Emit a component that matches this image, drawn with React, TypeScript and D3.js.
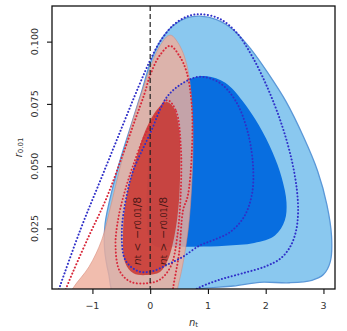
import React, { useEffect, useRef } from "react";
import * as d3 from "d3";

type Pt = [number, number];

// tick values / labels
const xTicks = [-1, 0, 1, 2, 3];
const xTickLabels = ["\u22121", "0", "1", "2", "3"];
const yTicks = [0.025, 0.05, 0.075, 0.1];
const yTickLabels = ["0.025", "0.050", "0.075", "0.100"];

// blue analysis, 2 sigma (filled, closed)
const blueOuter: Pt[] = [
  [-0.6, -0.002], [-0.72, 0.007], [-0.79, 0.017], [-0.78, 0.027], [-0.66, 0.0404],
  [-0.5, 0.054], [-0.34, 0.0658], [-0.16, 0.079], [0.0, 0.0913], [0.18, 0.1005],
  [0.4, 0.1065], [0.63, 0.1095], [0.86, 0.1102], [1.15, 0.1088], [1.45, 0.1045],
  [1.75, 0.0968], [2.05, 0.087], [2.35, 0.076], [2.65, 0.062], [2.9, 0.048],
  [3.06, 0.0345], [3.14, 0.022], [3.12, 0.0118], [3.0, 0.0065], [2.8, 0.0042],
  [2.41, 0.0032], [1.9, 0.0034], [1.44, 0.0019], [0.86, 0.0008], [0.3, -0.002]
];

// blue analysis, 1 sigma
const blueInner: Pt[] = [
  [0.98, 0.0861], [1.3, 0.0835], [1.6, 0.0762], [1.88, 0.0665], [2.12, 0.0555],
  [2.28, 0.0452], [2.36, 0.0355], [2.33, 0.0282], [2.16, 0.0222], [1.8, 0.0192],
  [1.3, 0.0181], [0.8, 0.0177], [0.4, 0.0177], [0.1, 0.0177], [-0.03, 0.021],
  [-0.06, 0.03], [-0.05, 0.045], [0.03, 0.0632], [0.29, 0.0778], [0.52, 0.0828],
  [0.75, 0.0855]
];

// red analysis, 2 sigma
const redOuter: Pt[] = [
  [-1.4, -0.002], [-1.32, 0.0016], [-1.06, 0.0096], [-0.84, 0.0203], [-0.7, 0.0324],
  [-0.6, 0.042], [-0.45, 0.056], [-0.32, 0.067], [-0.14, 0.08], [0.0, 0.0895],
  [0.15, 0.0975], [0.3, 0.1022], [0.37, 0.1025], [0.46, 0.1003], [0.55, 0.0966],
  [0.63, 0.091], [0.69, 0.0832], [0.74, 0.0632], [0.72, 0.0431], [0.66, 0.025],
  [0.56, 0.01], [0.48, 0.0016], [0.45, -0.002]
];

// red analysis, 1 sigma
const redInner: Pt[] = [
  [0.29, 0.0758], [0.42, 0.073], [0.5, 0.065], [0.52, 0.0565], [0.5, 0.0364],
  [0.42, 0.022], [0.3, 0.012], [0.17, 0.0075], [-0.06, 0.0063], [-0.29, 0.007],
  [-0.43, 0.011], [-0.47, 0.023], [-0.42, 0.0364], [-0.25, 0.0524], [-0.08, 0.0645],
  [0.12, 0.0728]
];

// dotted contours (other data combination)
const blueDotOuter: Pt[] = [
  [-1.62, -0.002], [-1.56, 0.002], [-1.2, 0.025], [-0.85, 0.045], [-0.5, 0.065],
  [-0.2, 0.082], [0.0, 0.0925], [0.17, 0.1], [0.4, 0.1066], [0.63, 0.11],
  [0.86, 0.111], [1.2, 0.1092], [1.5, 0.1035], [1.78, 0.0935], [2.05, 0.0805],
  [2.28, 0.0665], [2.45, 0.0525], [2.54, 0.0405], [2.56, 0.031], [2.52, 0.0235],
  [2.42, 0.0175], [2.26, 0.013], [2.0, 0.0098], [1.6, 0.007], [1.2, 0.0044],
  [0.86, 0.0014], [0.6, -0.002]
];

const blueDotInner: Pt[] = [
  [0.86, 0.0859], [1.2, 0.0835], [1.48, 0.0762], [1.68, 0.0645], [1.78, 0.0505],
  [1.76, 0.0385], [1.62, 0.0295], [1.38, 0.0235], [1.09, 0.0203], [0.86, 0.0182],
  [0.57, 0.0137], [0.3, 0.0105], [0.03, 0.0078], [-0.2, 0.0078], [-0.43, 0.0123],
  [-0.49, 0.0244], [-0.4, 0.039], [-0.29, 0.0484], [0.0, 0.0632], [0.29, 0.0778],
  [0.575, 0.0835]
];

const redDotOuter: Pt[] = [
  [-1.5, -0.002], [-1.42, 0.003], [-1.08, 0.021], [-0.76, 0.037], [-0.5, 0.053],
  [-0.27, 0.068], [-0.1, 0.079], [0.0, 0.0866], [0.17, 0.0946], [0.345, 0.0983],
  [0.5, 0.0945], [0.63, 0.0879], [0.72, 0.0745], [0.72, 0.055], [0.65, 0.038],
  [0.57, 0.0324], [0.5, 0.015], [0.4, 0.0016], [0.38, -0.002]
];

const redDotInner: Pt[] = [
  [0.3, 0.0765], [0.45, 0.072], [0.53, 0.058], [0.53, 0.04], [0.47, 0.022],
  [0.36, 0.01], [0.17, 0.0045], [-0.06, 0.003], [-0.34, 0.0036], [-0.53, 0.008],
  [-0.6, 0.018], [-0.56, 0.028], [-0.45, 0.039], [-0.3, 0.05], [-0.1, 0.062],
  [0.12, 0.0715]
];

const W = 347;
const H = 331;

const App: React.FC = () => {
  const svgRef = useRef<SVGSVGElement>(null);

  useEffect(() => {
    if (!svgRef.current) return;
    const svg = d3.select(svgRef.current);
    svg.selectAll("*").remove();

    const margin = { top: 6, right: 12, bottom: 42, left: 52 };
    const iw = W - margin.left - margin.right;
    const ih = H - margin.top - margin.bottom;

    const x = d3.scaleLinear().domain([-1.7, 3.2]).range([0, iw]);
    const y = d3.scaleLinear().domain([0.0007, 0.1143]).range([ih, 0]);

    svg.append("defs").append("clipPath").attr("id", "plot-clip")
      .append("rect").attr("width", iw).attr("height", ih);

    const g = svg.append("g").attr("transform", `translate(${margin.left},${margin.top})`);
    const plot = g.append("g").attr("clip-path", "url(#plot-clip)");

    const closed = d3.line<Pt>().x(d => x(d[0])).y(d => y(d[1]))
      .curve(d3.curveCatmullRomClosed.alpha(0.5));
    const open = d3.line<Pt>().x(d => x(d[0])).y(d => y(d[1]))
      .curve(d3.curveCatmullRom.alpha(0.5));

    plot.append("path").attr("d", closed(blueOuter))
      .attr("fill", "#8ac8ef").attr("stroke", "#5b98d8").attr("stroke-width", 1.3);
    plot.append("path").attr("d", closed(blueInner))
      .attr("fill", "#086ee0");
    plot.append("path").attr("d", closed(redOuter))
      .attr("fill", "#eeae9c").attr("fill-opacity", 0.82)
      .attr("stroke", "#d88878").attr("stroke-width", 0.8).attr("stroke-opacity", 0.7);
    plot.append("path").attr("d", closed(redInner))
      .attr("fill", "#c8302a").attr("fill-opacity", 0.82);

    const dotted = (data: Pt[], color: string, isClosed: boolean) =>
      plot.append("path").attr("d", (isClosed ? closed : open)(data))
        .attr("fill", "none").attr("stroke", color).attr("stroke-width", 2)
        .attr("stroke-linecap", "round").attr("stroke-dasharray", "0.1 3.3");

    dotted(redDotOuter, "#d8283a", false);
    dotted(redDotInner, "#d8283a", true);
    dotted(blueDotOuter, "#3030c8", false);
    dotted(blueDotInner, "#3030c8", true);

    // n_t = 0 line
    plot.append("line")
      .attr("x1", x(0)).attr("x2", x(0)).attr("y1", 0).attr("y2", ih)
      .attr("stroke", "#222").attr("stroke-width", 1.2).attr("stroke-dasharray", "5,3");

    // rotated annotations
    const notes = [
      { xv: -0.23, sym: "<" },
      { xv: 0.23, sym: ">" }
    ];
    notes.forEach(n => {
      const t = plot.append("text")
        .attr("transform", `translate(${x(n.xv)},${y(0.024)}) rotate(-90)`)
        .attr("text-anchor", "middle")
        .attr("dominant-baseline", "central")
        .attr("fill", "#2a0c0c").attr("fill-opacity", 0.8)
        .style("font-family", "DejaVu Sans, sans-serif")
        .style("font-size", "11px");
      t.append("tspan").style("font-style", "italic").text("n");
      t.append("tspan").attr("baseline-shift", "-20%").style("font-size", "8px").text("t");
      t.append("tspan").text(` ${n.sym} \u2212`);
      t.append("tspan").style("font-style", "italic").text("r");
      t.append("tspan").attr("baseline-shift", "-20%").style("font-size", "8px").text("0.01");
      t.append("tspan").text("/8");
    });

    // frame
    g.append("rect").attr("width", iw).attr("height", ih)
      .attr("fill", "none").attr("stroke", "#111").attr("stroke-width", 1.3);

    // axes
    const xAxis = g.append("g").attr("transform", `translate(0,${ih})`)
      .call(d3.axisBottom(x).tickValues(xTicks).tickSize(5).tickFormat(() => ""));
    xAxis.select(".domain").remove();
    xAxis.selectAll("line").attr("stroke", "#111").attr("stroke-width", 1.1);

    const yAxis = g.append("g")
      .call(d3.axisLeft(y).tickValues(yTicks).tickSize(5).tickFormat(() => ""));
    yAxis.select(".domain").remove();
    yAxis.selectAll("line").attr("stroke", "#111").attr("stroke-width", 1.1);

    const labelStyle = (s: d3.Selection<SVGTextElement, unknown, null, undefined>) =>
      s.attr("fill", "#333").style("font-family", "DejaVu Sans, sans-serif").style("font-size", "9.5px");

    xTicks.forEach((v, i) => {
      g.append("text").attr("x", x(v)).attr("y", ih + 19.5)
        .attr("text-anchor", "middle").call(labelStyle).text(xTickLabels[i]);
    });
    yTicks.forEach((v, i) => {
      g.append("text")
        .attr("transform", `translate(-14,${y(v)}) rotate(-90)`)
        .attr("text-anchor", "middle").call(labelStyle).text(yTickLabels[i]);
    });

    const xl = g.append("text").attr("x", iw / 2).attr("y", ih + 37)
      .attr("text-anchor", "middle").call(labelStyle).style("font-size", "10px");
    xl.append("tspan").style("font-style", "italic").text("n");
    xl.append("tspan").attr("baseline-shift", "-20%").style("font-size", "7px").text("t");

    const yl = g.append("text")
      .attr("transform", `translate(-30,${ih / 2}) rotate(-90)`)
      .attr("text-anchor", "middle").call(labelStyle).style("font-size", "10px");
    yl.append("tspan").style("font-style", "italic").text("r");
    yl.append("tspan").attr("baseline-shift", "-20%").style("font-size", "7px").text("0.01");
  }, []);

  return (
    <svg
      ref={svgRef}
      width={W}
      height={H}
      style={{ position: "absolute", left: 0, top: 0, background: "#fff" }}
    />
  );
};

export default App;
